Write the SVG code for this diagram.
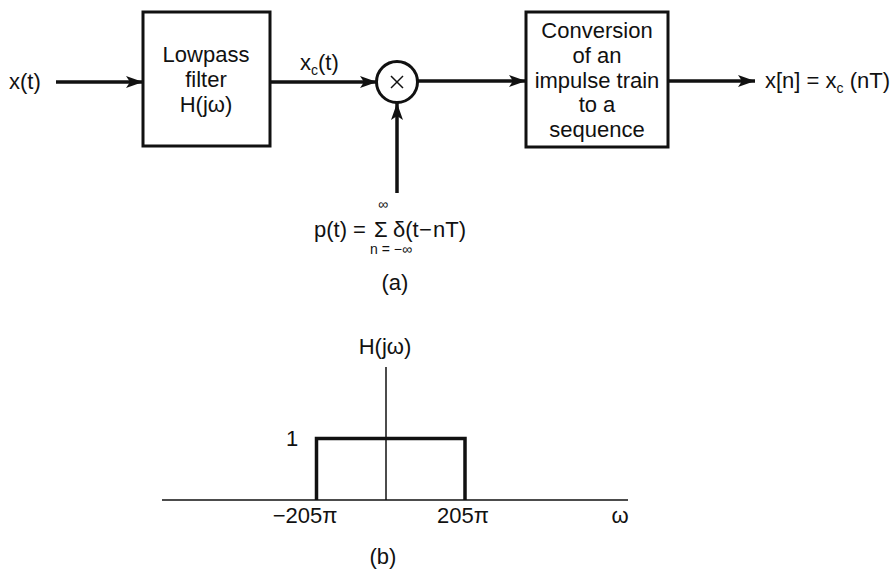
<svg xmlns="http://www.w3.org/2000/svg" width="893" height="571" viewBox="0 0 893 571">
<style>
text{font-family:"Liberation Sans",Arial,sans-serif;font-size:22px;fill:#111}
.c{text-anchor:middle}
.sm{font-size:14px}
.box{fill:#fff;stroke:#111;stroke-width:3}
.wire{stroke:#111;stroke-width:3.5;fill:none}
.thin{stroke:#111;stroke-width:1.5;fill:none}
</style>
<defs>
<marker id="ah" markerUnits="userSpaceOnUse" markerWidth="18" markerHeight="12" refX="17" refY="6" orient="auto">
<path d="M0,0 L17,6 L0,12 L4,6 Z" fill="#111"/>
</marker>
</defs>
<rect width="893" height="571" fill="#fff"/>
<g id="connectors">
<line class="wire" x1="56" y1="82" x2="143" y2="82" marker-end="url(#ah)"/>
<line class="wire" x1="270" y1="82" x2="377" y2="82" marker-end="url(#ah)"/>
<line class="wire" x1="397" y1="193" x2="397" y2="103" marker-end="url(#ah)"/>
<line class="wire" x1="418" y1="81" x2="526" y2="81" marker-end="url(#ah)"/>
<line class="wire" x1="668" y1="81" x2="755" y2="81" marker-end="url(#ah)"/>
</g>
<g id="input"><text x="9" y="89">x(t)</text></g>
<g id="lowpass">
<rect class="box" x="143" y="12" width="127" height="134"/>
<text class="c" x="206" y="62">Lowpass</text>
<text class="c" x="206" y="87">filter</text>
<text class="c" x="206" y="112">H(jω)</text>
</g>
<g id="xc-label"><text x="300" y="70">x<tspan class="sm" dy="5">c</tspan><tspan dy="-5">(t)</tspan></text></g>
<g id="multiplier">
<circle cx="397" cy="82" r="20.5" fill="#fff" stroke="#111" stroke-width="3"/>
<line class="thin" x1="391" y1="76" x2="403" y2="88"/>
<line class="thin" x1="403" y1="76" x2="391" y2="88"/>
</g>
<g id="conversion">
<rect class="box" x="526" y="12" width="142" height="135"/>
<text class="c" x="597" y="38">Conversion</text>
<text class="c" x="597" y="63">of an</text>
<text class="c" x="597" y="88">impulse train</text>
<text class="c" x="597" y="112">to a</text>
<text class="c" x="597" y="137">sequence</text>
</g>
<g id="output"><text x="765" y="88">x[n] = x<tspan class="sm" dy="5">c</tspan><tspan dy="-5"> (nT)</tspan></text></g>
<g id="pulse-train">
<text x="314" y="237">p(t) =</text>
<text x="374" y="237">Σ</text>
<text x="393" y="237">δ(t</text>
<text x="419" y="237">−</text>
<text x="433" y="237">nT)</text>
<text class="c sm" x="383" y="209">∞</text>
<text class="c sm" x="391" y="254">n = −∞</text>
<text class="c" x="395" y="290">(a)</text>
</g>
<g id="plot">
<line class="thin" x1="162" y1="500" x2="628" y2="500"/>
<line class="thin" x1="386" y1="367" x2="386" y2="500"/>
<path d="M316.5,500 V438.5 H465 V500" fill="none" stroke="#111" stroke-width="3.5"/>
<text class="c" x="385" y="354">H(jω)</text>
<text x="286" y="446">1</text>
<text class="c" x="305" y="523">−205π</text>
<text class="c" x="463" y="523">205π</text>
<text class="c" x="620" y="523">ω</text>
<text class="c" x="383" y="564">(b)</text>
</g>
</svg>
